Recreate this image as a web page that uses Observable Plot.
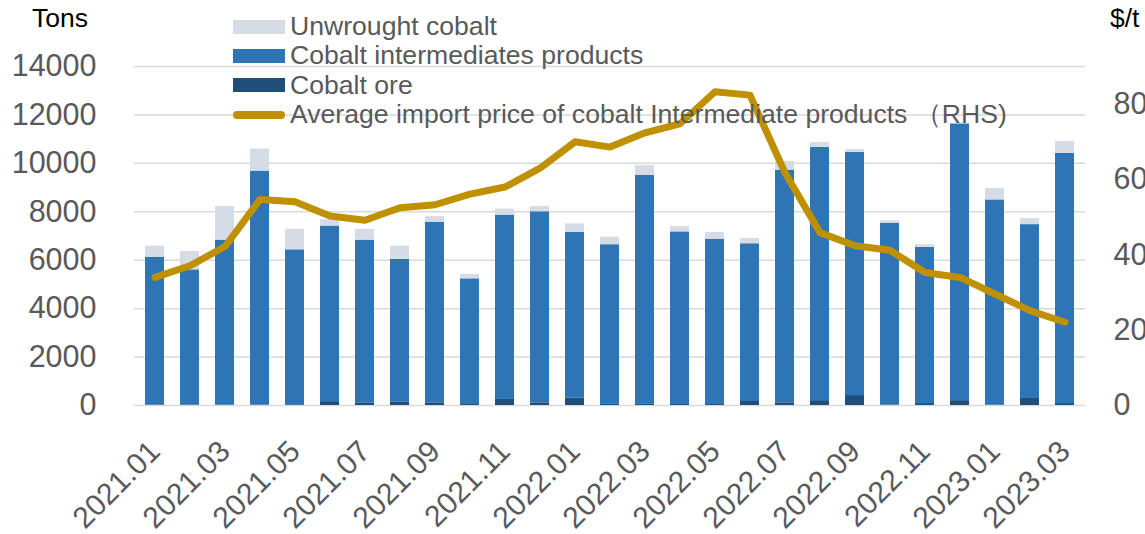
<!DOCTYPE html>
<html>
<head>
<meta charset="utf-8">
<script src="https://cdn.jsdelivr.net/npm/d3@7"></script>
<script src="https://cdn.jsdelivr.net/npm/@observablehq/plot@0.6"></script>
<style>
  html, body { margin: 0; padding: 0; background: #fff; }
  #wrap { position: relative; width: 1145px; height: 534px; overflow: hidden; font-family: "Liberation Sans", Arial, sans-serif; }
  #chart { position: absolute; left: 0; top: 0; }
  .unit { position: absolute; top: 3px; font-size: 26.5px; color: #000; }
  #legend { position: absolute; left: 233px; top: 12px; z-index: 2; }
  .row { display: flex; align-items: center; height: 29.3px; }
  .sw { width: 52px; height: 14px; margin-right: 5px; }
  .ln { width: 52px; height: 8px; border-radius: 4px; margin-right: 5px; }
  .lt { font-size: 26.6px; color: #595959; white-space: pre; line-height: 29px; }
</style>
</head>
<body>
<div id="wrap">
  <div id="chart"></div>
  <div class="unit" style="left:32px">Tons</div>
  <div class="unit" style="left:1110px">$/t</div>
  <div id="legend"></div>
</div>
<script>
const months = ["2021.01","2021.02","2021.03","2021.04","2021.05","2021.06","2021.07","2021.08","2021.09","2021.10","2021.11","2021.12",
  "2022.01","2022.02","2022.03","2022.04","2022.05","2022.06","2022.07","2022.08","2022.09","2022.10","2022.11","2022.12",
  "2023.01","2023.02","2023.03"];
const cobaltOre = [20,20,20,20,30,160,110,150,110,40,250,110,300,70,70,40,40,165,110,200,410,20,80,200,20,290,80];
const intermediates = [6105,5580,6810,9660,6400,7250,6720,5880,7460,5190,7610,7890,6850,6570,9440,7130,6830,6515,9610,10460,10040,7510,6450,11430,8470,7180,10330];
const unwrought = [455,760,1390,910,840,260,440,550,230,180,250,220,350,310,400,220,280,220,360,200,120,100,110,30,470,250,490];
const price = [34000,37100,42200,54700,54100,50300,49200,52500,53300,56100,58000,63000,70000,68600,72400,74800,83300,82400,61800,45900,42400,41200,35300,34000,29600,25200,22100];
const leftTicks = [0,2000,4000,6000,8000,10000,12000,14000];
const rightTicks = [0,20000,40000,60000,80000];
const xTickLabels = months.filter((m, i) => i % 2 === 0);

const seriesNames = ["Cobalt ore","Cobalt intermediates products","Unwrought cobalt"];
const seriesColors = ["#1F4E79","#2E75B6","#D6DCE5"];
const lineName = "Average import price of cobalt Intermediate products （RHS)";
const lineColor = "#BF9000";

const leftMax = 14000, rightMax = 90000;
const k = leftMax / rightMax;

const rows = [];
months.forEach((m, i) => {
  rows.push({month: m, series: seriesNames[0], value: cobaltOre[i]});
  rows.push({month: m, series: seriesNames[1], value: intermediates[i]});
  rows.push({month: m, series: seriesNames[2], value: unwrought[i]});
});
const priceRows = months.map((m, i) => ({month: m, price: price[i]}));

const chart = Plot.plot({
  width: 1145,
  height: 534,
  marginTop: 66,
  marginBottom: 129,
  marginLeft: 134,
  marginRight: 60,
  style: {fontFamily: "'Liberation Sans', Arial, sans-serif", background: "transparent", overflow: "visible"},
  x: {type: "band", domain: months, paddingInner: 0.45, paddingOuter: 0.225, label: null},
  y: {domain: [0, leftMax], label: null},
  color: {domain: seriesNames, range: seriesColors},
  marks: [
    Plot.gridY(leftTicks, {stroke: "#d9d9d9", strokeOpacity: 1, strokeWidth: 1.5}),
    Plot.barY(rows, {x: "month", y: "value", fill: "series", order: seriesNames, inset: 0}),
    Plot.line(priceRows, {x: "month", y: d => d.price * k, stroke: lineColor, strokeWidth: 7, strokeLinecap: "round", strokeLinejoin: "round"}),
    Plot.axisY(leftTicks, {anchor: "left", tickSize: 0, tickPadding: 38, fontSize: 30.5, fill: "#595959", tickFormat: d3.format("d"), label: null}),
    Plot.axisY(rightTicks.map(v => v * k), {anchor: "right", tickSize: 0, tickPadding: 28, fontSize: 30.5, fill: "#595959", tickFormat: d => String(Math.round(d / k)), label: null}),
    Plot.axisX(xTickLabels, {tickSize: 0, tickPadding: 41, tickRotate: -45, fontSize: 30, fill: "#595959", label: null})
  ]
});
document.getElementById("chart").appendChild(chart);

const legend = document.getElementById("legend");
const legendItems = [
  {name: seriesNames[2], color: seriesColors[2], kind: "sw"},
  {name: seriesNames[1], color: seriesColors[1], kind: "sw"},
  {name: seriesNames[0], color: seriesColors[0], kind: "sw"},
  {name: lineName, color: lineColor, kind: "ln"}
];
legendItems.forEach(it => {
  const r = document.createElement("div");
  r.className = "row";
  const s = document.createElement("div");
  s.className = it.kind;
  s.style.background = it.color;
  const t = document.createElement("span");
  t.className = "lt";
  t.textContent = it.name;
  r.appendChild(s); r.appendChild(t);
  legend.appendChild(r);
});
</script>
</body>
</html>
